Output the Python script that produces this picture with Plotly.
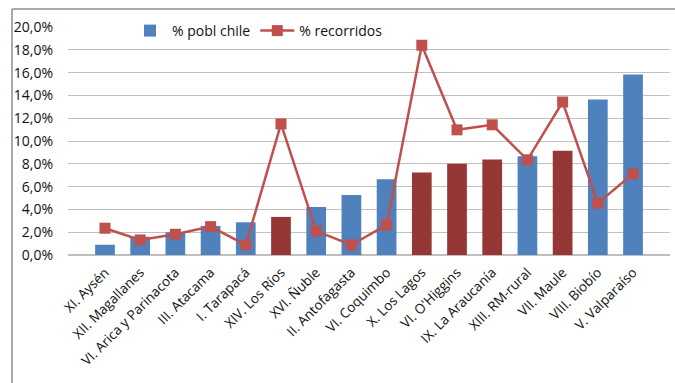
import plotly.graph_objects as go

categories = ["XI. Aysén", "XII. Magallanes", "VI. Arica y Parinacota", "III. Atacama",
              "I. Tarapacá", "XIV. Los Ríos", "XVI. Ñuble", "II. Antofagasta",
              "VI. Coquimbo", "X. Los Lagos", "VI. O'Higgins", "IX. La Araucanía",
              "XIII. RM-rural", "VII. Maule", "VIII. Biobío", "V. Valparaíso"]
pobl_chile = [0.9, 1.6, 2.0, 2.55, 2.87, 3.34, 4.2, 5.27,
              6.65, 7.23, 8.0, 8.37, 8.67, 9.14, 13.65, 15.84]
recorridos = [2.35, 1.32, 1.82, 2.49, 0.88, 11.5, 2.1, 0.88,
              2.64, 18.4, 10.98, 11.42, 8.35, 13.42, 4.54, 7.12]
highlighted = ["XIV. Los Ríos", "X. Los Lagos", "VI. O'Higgins", "IX. La Araucanía", "VII. Maule"]
y_ticks = [0, 2, 4, 6, 8, 10, 12, 14, 16, 18, 20]

BLUE = "#4F81BD"
DARK = "#953735"
RED = "#C0504D"
bar_colors = [DARK if c in highlighted else BLUE for c in categories]

fig = go.Figure()
fig.add_trace(go.Bar(x=categories, y=pobl_chile, name="% pobl chile",
                     marker=dict(color=bar_colors, line=dict(width=0))))
fig.add_trace(go.Scatter(x=categories, y=recorridos, name="% recorridos", mode="lines+markers",
                         line=dict(color=RED, width=2.5),
                         marker=dict(symbol="square", size=11, color=RED)))

W, H = 675, 383
L, R, T, B = 68, 5, 27, 128
pw, ph = W - L - R, H - T - B
def px(x): return (x - L) / pw
def py(y): return (H - B - y) / ph

fig.update_layout(
    width=W, height=H,
    margin=dict(l=L, r=R, t=T, b=B),
    paper_bgcolor="white", plot_bgcolor="white",
    separators=",.",
    font=dict(family="Open Sans", size=13, color="#111111"),
    bargap=0.44,
    showlegend=True,
    legend=dict(orientation="h", x=px(128), xanchor="left", y=py(31), yanchor="middle",
                bgcolor="white", font=dict(size=14, color="#111111"),
                itemwidth=34, tracegroupgap=0),
    xaxis=dict(tickangle=-45, showgrid=False, showline=False, ticks="",
               tickfont=dict(size=13.5), ticklabelstandoff=6),
    yaxis=dict(range=[0, 20], tickvals=y_ticks, ticktext=[f"{v:.1f}%".replace(".", ",") for v in y_ticks],
               showgrid=True, gridcolor="#C0C0C0", gridwidth=1,
               zeroline=True, zerolinecolor="#BFBFBF", zerolinewidth=1.5,
               showline=False, ticks="", ticklabelstandoff=14,
               tickfont=dict(size=14)),
    shapes=[
        dict(type="line", xref="paper", yref="paper", x0=px(12), x1=px(12), y0=py(383), y1=py(9),
             line=dict(color="#8C8C8C", width=1.5), layer="below"),
        dict(type="line", xref="paper", yref="paper", x0=px(12), x1=px(675), y0=py(9), y1=py(9),
             line=dict(color="#8C8C8C", width=1.5), layer="below"),
    ],
)

fig.write_html("out.html")
